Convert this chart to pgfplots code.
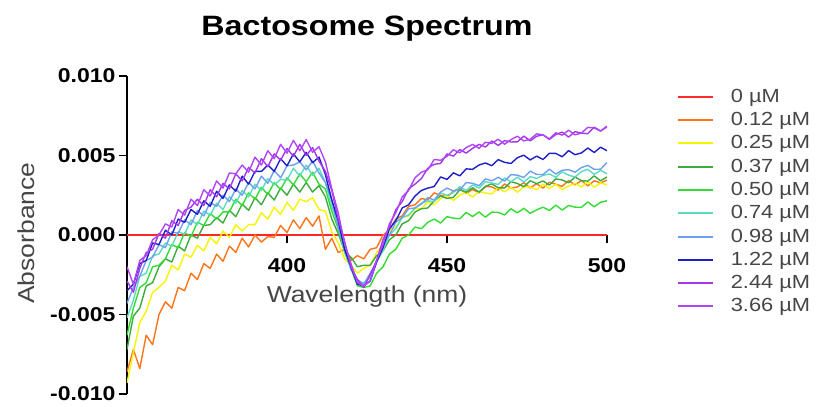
\documentclass[border=0pt]{standalone}
\usepackage{pgfplots}
\pgfplotsset{compat=1.18}
\usepackage{pgfplotstable}
\usepackage{fontspec}
\setmainfont[FakeStretch=1.15]{Liberation Sans}

\definecolor{cZero}{RGB}{255,40,40}
\definecolor{cO}{RGB}{255,115,25}
\definecolor{cY}{RGB}{245,245,0}
\definecolor{cG}{RGB}{60,170,60}
\definecolor{cBG}{RGB}{50,220,50}
\definecolor{cAq}{RGB}{90,220,190}
\definecolor{cLB}{RGB}{110,160,240}
\definecolor{cB}{RGB}{30,30,200}
\definecolor{cP}{RGB}{165,55,235}
\definecolor{cV}{RGB}{175,70,245}
\definecolor{labelgray}{RGB}{70,70,70}

% absorbance in units of 1e-3
\pgfplotstableread{
x   o     y     g     bg    aq    lb    b     p     v
350 -8.6  -9.3  -7.2  -6.3  -5.2  -4.3  -3.5  -2.9  -2.0
352 -7.2  -7.4  -5.1  -4.6  -4.1  -3.3  -3.1  -3.6  -3.1
354 -8.4  -5.5  -4.6  -3.3  -2.6  -2.6  -1.8  -2.1  -1.6
356 -6.3  -4.8  -3.2  -3.0  -2.4  -1.6  -1.6  -1.1  -1.3
358 -6.9  -3.6  -3.0  -2.0  -1.3  -1.4  -0.5  -0.9  -0.3
360 -5.0  -3.3  -2.0  -1.9  -1.2  -0.6  -0.6  0.1   0.0
362 -4.2  -2.9  -1.5  -1.5  -0.5  -0.8  0.3   -0.2  0.7
364 -4.6  -1.9  -1.7  -0.6  -0.7  0.2   0.0   0.9   0.5
366 -3.3  -2.2  -0.7  -0.8  0.2   0.1   1.0   0.6   1.6
368 -3.5  -1.2  -1.0  0.15  0.05  0.95  0.8   1.55  1.25
370 -2.4  -1.4  0.0   -0.1  0.95  0.65  1.6   1.75  2.25
372 -2.8  -0.65 -0.2  0.8   0.65  1.55  1.3   2.25  1.85
374 -1.8  -1.0  0.6   0.6   1.5   1.2   2.15  1.85  2.85
376 -2.1  -0.15 0.65  1.35  1.25  2.05  1.8   2.85  2.45
378 -1.2  -0.55 1.1   1.0   2.0   1.8   2.75  2.4   3.4
380 -1.65 0.25  0.75  1.45  1.6   2.5   2.3   3.25  2.95
382 -0.7  -0.15 1.55  1.45  2.4   2.1   3.15  2.9   3.9
384 -1.1  0.65  1.15  2.25  2.0   2.9   2.75  3.85  3.85
386 -0.2  0.25  1.95  1.85  2.8   2.5   3.7   3.4   4.4
388 -0.75 0.65  1.55  2.65  2.4   3.3   3.2   4.25  3.95
390 0.0   0.65  2.35  2.25  3.2   2.9   4.0   3.9   4.9
392 -0.45 1.4   1.9   3.0   2.8   3.7   4.0   4.8   4.4
394 -0.1  1.0   2.65  2.55  3.55  3.25  4.4   4.3   5.3
396 -0.15 1.75  2.2   3.3   3.15  4.05  4.0   5.1   4.8
398 0.6   1.3   2.95  2.85  3.5   3.6   4.8   4.7   5.7
400 0.15  2.05  2.5   3.6   3.45  4.35  4.35  5.45  5.15
402 0.95  1.55  3.2   3.15  4.2   4.4   5.1   4.95  5.95
404 0.4   2.25  2.7   3.85  3.7   4.6   4.6   5.7   5.3
406 1.1   2.1   3.3   3.35  4.4   4.1   5.2   5.0   6.0
408 0.55  2.35  2.7   3.95  3.75  4.65  4.55  5.5   5.2
410 1.2   1.6   3.1   3.2   4.2   3.9   4.9   4.65  5.55
412 -0.9  1.5   2.4   2.9   3.3   3.3   3.8   4.0   4.6
414 -0.2  0.2   1.0   1.5   1.8   2.2   2.2   2.8   2.9
416 -1.1  -0.5  0.1   0.4   0.6   0.5   0.9   1.0   1.4
418 -0.9  -1.5  -1.0  -1.1  -1.0  -0.8  -0.9  -0.4  -0.5
420 -1.6  -1.9  -1.4  -2.1  -2.0  -2.2  -2.0  -2.0  -1.8
422 -1.3  -2.4  -2.0  -3.2  -3.0  -2.8  -3.1  -2.8  -3.0
424 -1.5  -2.1  -1.9  -3.3  -3.0  -3.1  -3.2  -3.3  -3.2
426 -0.9  -1.9  -1.9  -3.2  -2.7  -2.4  -2.9  -2.5  -2.9
428 -0.8  -1.1  -1.3  -2.4  -1.7  -1.7  -1.7  -1.6  -1.6
430 0.0   -0.6  -1.0  -2.0  -1.0  -0.6  -0.8  -0.3  -0.6
432 0.3   0.3   -0.3  -1.2  0.0   0.0   0.4   0.5   0.7
434 1.0   0.5   0.0   -0.9  0.4   0.8   0.9   1.6   1.4
436 1.2   1.1   0.7   -0.2  1.1   1.1   1.7   2.1   2.4
438 1.8   1.2   0.9   0.0   1.25  1.65  1.9   2.9   2.8
440 1.9   1.65  1.45  0.5   1.7   1.7   2.45  3.2   3.6
442 2.3   1.65  1.65  0.4   2.0   1.95  2.8   3.55  3.95
444 2.2   2.1   1.7   0.8   2.15  2.35  2.95  4.2   4.1
446 2.65  1.9   2.15  1.0   2.1   2.2   3.05  4.45  4.75
448 2.5   2.3   2.45  0.75  2.65  2.7   3.65  4.5   4.7
450 2.4   2.45  2.3   1.15  2.5   2.95  3.5   5.1   4.95
452 2.76  2.18  2.37  1.06  2.67  2.77  3.91  4.96  5.36
454 2.92  2.51  2.84  1.02  3.04  2.84  3.72  5.37  5.17
456 2.62  2.68  2.69  1.42  2.8   3.3   4.16  5.15  5.5
458 2.86  2.39  2.97  1.16  3.15  3.25  4.13  5.45  5.7
460 2.65  2.75  2.7   1.45  2.95  3.1   4.4   5.7   5.45
462 3.04  2.64  3.06  1.12  3.36  3.53  4.53  5.53  5.83
464 3.03  2.58  3.22  1.44  3.27  3.41  4.36  5.91  5.76
466 2.82  2.97  2.97  1.42  3.18  3.63  4.74  5.63  6.02
468 3.21  2.71  2.96  1.26  3.59  3.39  4.57  5.94  5.71
470 2.95  3.0   3.35  1.65  3.35  3.8   4.5   5.85  6.0
472 3.02  2.69  3.24  1.39  3.64  3.76  4.86  5.86  6.21
474 3.29  3.03  3.03  1.68  3.33  3.62  5.02  6.22  5.92
476 2.96  3.02  3.41  1.36  3.67  4.02  4.72  5.92  6.02
478 3.23  2.84  3.23  1.58  3.56  3.81  4.96  6.21  6.36
480 2.95  3.2   3.4   1.75  3.75  3.8   4.75  6.3   6.3
482 3.32  2.92  3.14  1.54  3.84  4.14  5.14  6.01  6.04
484 3.19  3.19  3.53  1.88  3.63  3.83  5.13  6.32  6.43
486 3.06  2.86  3.46  1.57  3.97  4.07  4.92  6.47  6.28
488 3.43  3.08  3.28  1.86  3.76  4.11  5.31  6.16  6.59
490 3.15  3.25  3.65  1.75  3.65  3.95  5.05  6.5   6.3
492 3.42  3.02  3.42  1.74  3.99  4.24  5.16  6.41  6.41
494 3.09  3.34  3.39  2.08  4.13  4.38  5.47  6.37  6.77
496 3.41  3.01  3.72  1.77  3.82  4.13  5.19  6.78  6.73
498 3.28  3.28  3.41  2.06  4.06  4.14  5.52  6.54  6.54
500 3.45  3.15  3.65  2.15  3.85  4.55  5.3   6.85  6.8
}\spectra

\begin{document}
\begin{tikzpicture}
\begin{axis}[
  scale only axis, width=480pt, height=318pt,
  xmin=350, xmax=500, ymin=-10, ymax=10,
  axis x line*=middle, axis y line*=left,
  axis line style={-, line width=1.6pt, black},
  x axis line style={draw=none},
  xtick={400,450,500}, xticklabels={400,450,500},
  ytick={-10,-5,0,5,10},
  yticklabels={-0.010,-0.005,0.000,0.005,0.010},
  tick align=outside, major tick length=8pt,
  tick style={line width=1.6pt, black},
  ticklabel style={font=\fontsize{20}{20}\selectfont\bfseries},
  xticklabel style={yshift=-12pt},
  title={Bactosome Spectrum},
  title style={at={(0.5,1.13)}, anchor=center, font=\fontsize{28}{28}\selectfont\bfseries},
  xlabel={Wavelength (nm)},
  xlabel style={at={(axis description cs:0.5,0.308)}, anchor=center,
    font=\fontsize{23}{23}\selectfont, text=labelgray},
  ylabel={Absorbance},
  ylabel style={at={(axis description cs:-0.21,0.506)}, anchor=center,
    font=\fontsize{23}{23}\selectfont, text=labelgray},
  legend style={at={(1.145,0.962)}, anchor=north west, draw=none, fill=none,
    inner sep=0pt, font=\fontsize{19}{19}\selectfont, text=labelgray,
    nodes={inner sep=0pt, text height=14pt, text depth=3pt},
    row sep=6.3pt, /tikz/every odd column/.append style={column sep=17pt}},
  legend cell align=left,
  legend image code/.code={\draw[#1, line width=2pt] (0pt,0pt) -- (35pt,0pt);},
  every axis plot/.append style={line width=1.4pt, line join=round},
]
\addplot[cZero, line width=1.5pt] coordinates {(350,0) (500,0)};
\addlegendentry{0 µM}
\addplot[cO] table[x=x, y=o] {\spectra};
\addlegendentry{0.12 µM}
\addplot[cY] table[x=x, y=y] {\spectra};
\addlegendentry{0.25 µM}
\addplot[cG] table[x=x, y=g] {\spectra};
\addlegendentry{0.37 µM}
\addplot[cBG] table[x=x, y=bg] {\spectra};
\addlegendentry{0.50 µM}
\addplot[cAq] table[x=x, y=aq] {\spectra};
\addlegendentry{0.74 µM}
\addplot[cLB] table[x=x, y=lb] {\spectra};
\addlegendentry{0.98 µM}
\addplot[cB] table[x=x, y=b] {\spectra};
\addlegendentry{1.22 µM}
\addplot[cP] table[x=x, y=p] {\spectra};
\addlegendentry{2.44 µM}
\addplot[cV] table[x=x, y=v] {\spectra};
\addlegendentry{3.66 µM}
\end{axis}
\path (current axis.south west) ++(-127pt,-13pt) rectangle ++(817pt,407pt);
\end{tikzpicture}
\end{document}
